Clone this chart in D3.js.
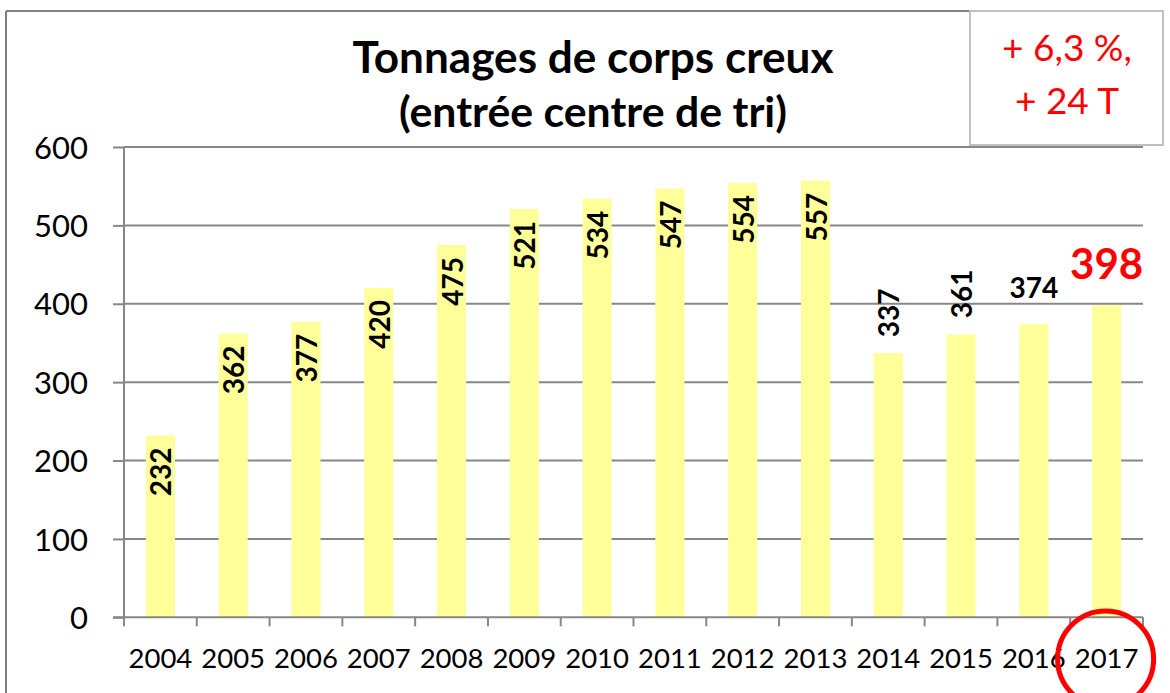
<!DOCTYPE html>
<html>
<head>
<meta charset="utf-8">
<script src="https://cdn.jsdelivr.net/npm/d3@7"></script>
<style>
  html, body { margin: 0; padding: 0; background: #fff; }
  svg { display: block; }
  text { font-family: Lato, "Open Sans", sans-serif; }
</style>
</head>
<body>
<svg id="chart" width="1170" height="693"></svg>
<script>
// ---- data ----
const years = ["2004","2005","2006","2007","2008","2009","2010","2011","2012","2013","2014","2015","2016","2017"];
const tonnages = [232, 362, 377, 420, 475, 521, 534, 547, 554, 557, 337, 361, 374, 398];
const yTicks = [0, 100, 200, 300, 400, 500, 600];
const titleLines = ["Tonnages de corps creux", "(entrée centre de tri)"];
const noteLines = ["+ 6,3 %,", "+ 24 T"];

const outsideRotated = ["2014", "2015"];
const horizontalLabel = ["2016"];
const highlightYear = "2017";

// ---- layout ----
const W = 1170, H = 693;
const plot = { left: 124, right: 1143, top: 147, bottom: 617.3 };
const axisColor = "#878787";

const svg = d3.select("#chart");

const x = d3.scaleBand().domain(years).range([plot.left, plot.right]).paddingInner(0.6).paddingOuter(0.3);
const y = d3.scaleLinear().domain([0, 600]).range([plot.bottom, plot.top]);

// outer frame
svg.append("line").attr("x1", 6).attr("x2", 6).attr("y1", 11).attr("y2", H)
  .attr("stroke", "#808080").attr("stroke-width", 2);
svg.append("line").attr("x1", 6).attr("x2", 970).attr("y1", 11).attr("y2", 11)
  .attr("stroke", "#808080").attr("stroke-width", 2);

// gridlines
svg.append("g").selectAll("line").data(yTicks.filter(d => d > 0)).join("line")
  .attr("x1", plot.left).attr("x2", plot.right)
  .attr("y1", d => y(d)).attr("y2", d => y(d))
  .attr("stroke", axisColor).attr("stroke-width", 2);

// note box
const box = svg.append("g");
box.append("rect").attr("x", 970).attr("y", 11).attr("width", 193).attr("height", 134)
  .attr("fill", "#fff").attr("stroke", "#c0c0c0").attr("stroke-width", 2);
box.selectAll("text").data(noteLines).join("text")
  .attr("x", 1067).attr("y", (d, i) => 61 + i * 53)
  .attr("text-anchor", "middle").attr("fill", "#ff0000")
  .attr("font-size", 37).text(d => d);

// bars
svg.append("g").selectAll("rect").data(years).join("rect")
  .attr("x", d => x(d)).attr("width", x.bandwidth())
  .attr("y", (d, i) => y(tonnages[i]))
  .attr("height", (d, i) => y(0) - y(tonnages[i]))
  .attr("fill", "#ffff99");

// y axis
const yAxis = d3.axisLeft(y).tickValues(yTicks).tickSize(11).tickPadding(25).tickFormat(d3.format("d"));
const gy = svg.append("g").attr("transform", `translate(${plot.left},0)`).call(yAxis);
gy.select(".domain").attr("stroke", axisColor).attr("stroke-width", 2).attr("d", `M-0,${plot.top}V${plot.bottom}`);
gy.selectAll(".tick line").attr("stroke", axisColor).attr("stroke-width", 2);
gy.selectAll(".tick text").attr("font-size", 31).attr("fill", "#000")
  .attr("font-family", "Lato, sans-serif").attr("dy", "0.36em");

// x axis
const edges = years.map(d => x(d) - x.step() * x.paddingInner() / 2);
edges.push(plot.right);
const gx = svg.append("g");
gx.append("line").attr("x1", plot.left - 11).attr("x2", plot.right)
  .attr("y1", plot.bottom).attr("y2", plot.bottom)
  .attr("stroke", axisColor).attr("stroke-width", 2);
gx.selectAll("line.tk").data(edges).join("line").attr("class", "tk")
  .attr("x1", d => d).attr("x2", d => d)
  .attr("y1", plot.bottom).attr("y2", plot.bottom + 9)
  .attr("stroke", axisColor).attr("stroke-width", 2);
gx.selectAll("text").data(years).join("text")
  .attr("x", d => x(d) + x.bandwidth() / 2).attr("y", 668)
  .attr("text-anchor", "middle").attr("font-size", 27.5).attr("fill", "#000")
  .text(d => d);

// value labels
const lbl = svg.append("g");
years.forEach((yr, i) => {
  const v = tonnages[i];
  const cx = x(yr) + x.bandwidth() / 2;
  const top = y(v);
  if (yr === highlightYear) {
    lbl.append("text").attr("x", cx).attr("y", top - 26)
      .attr("text-anchor", "middle").attr("font-size", 42).attr("font-weight", "bold")
      .attr("fill", "#ff0000").text(v);
  } else if (horizontalLabel.includes(yr)) {
    lbl.append("text").attr("x", cx).attr("y", top - 26)
      .attr("text-anchor", "middle").attr("font-size", 28).attr("font-weight", "bold")
      .attr("fill", "#000").text(v);
  } else if (outsideRotated.includes(yr)) {
    const ay = top - 16;
    lbl.append("text").attr("transform", `translate(${cx + 1},${ay}) rotate(-90)`)
      .attr("text-anchor", "start").attr("dy", "0.36em")
      .attr("font-size", 28).attr("font-weight", "bold").attr("fill", "#000").text(v);
  } else {
    const ay = top + 12;
    lbl.append("text").attr("transform", `translate(${cx + 1},${ay}) rotate(-90)`)
      .attr("text-anchor", "end").attr("dy", "0.36em")
      .attr("font-size", 28).attr("font-weight", "bold").attr("fill", "#000").text(v);
  }
});

// title
const titleTargets = [481, 388];
const titleY = [73, 127];
titleLines.forEach((t, i) => {
  const el = svg.append("text").attr("x", 593).attr("y", titleY[i])
    .attr("text-anchor", "middle").attr("font-weight", "bold").attr("font-size", 40)
    .attr("fill", "#000").text(t);
  const len = el.node().getComputedTextLength();
  el.attr("font-size", 40 * titleTargets[i] / len);
});

// highlight circle
svg.append("circle").attr("cx", x(highlightYear) + x.bandwidth() / 2 - 1).attr("cy", 659).attr("r", 48)
  .attr("fill", "none").attr("stroke", "#ff0000").attr("stroke-width", 5);
</script>
</body>
</html>
